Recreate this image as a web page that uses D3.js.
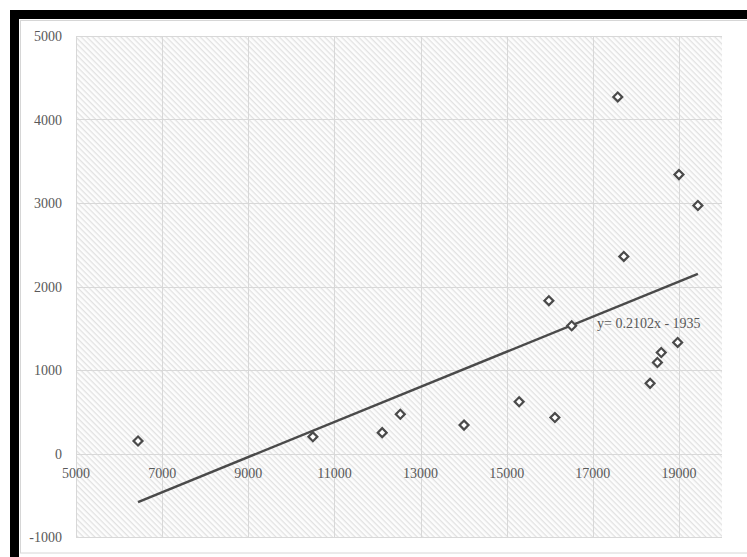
<!DOCTYPE html>
<html>
<head>
<meta charset="utf-8">
<script src="https://cdn.jsdelivr.net/npm/d3@7"></script>
<style>
  body { margin: 0; background: #fff; }
  text { font-family: "Liberation Serif", "DejaVu Serif", serif; }
</style>
</head>
<body>
<script>
// data
const xValues = [6440, 10500, 12110, 12530, 14010, 15290, 15980, 16120, 16510, 17580, 17720, 18330, 18500, 18590, 18970, 19000, 19440]
const yValues = [150, 200, 250, 470, 340, 620, 1830, 430, 1530, 4270, 2360, 840, 1090, 1210, 1330, 3340, 2970]
const xTicks = [5000, 7000, 9000, 11000, 13000, 15000, 17000, 19000]
const yTicks = [-1000, 0, 1000, 2000, 3000, 4000, 5000]
const slope = 0.2102
const intercept = -1935
const trendLabel = 'y= 0.2102x - 1935'

const W = 747, H = 557

let svg = d3.select('body').append('svg')
    .attr('width', W)
    .attr('height', H)

// hatch pattern for the plot area
let defs = svg.append('defs')
let pat = defs.append('pattern')
    .attr('id', 'hatch')
    .attr('width', 4)
    .attr('height', 4)
    .attr('patternUnits', 'userSpaceOnUse')
    .attr('patternTransform', 'rotate(45)')
pat.append('rect').attr('width', 4).attr('height', 4).attr('fill', '#fdfdfd')
pat.append('rect').attr('width', 4).attr('height', 1.3).attr('fill', '#e2e2e2')

// black frame + inner chart border
svg.append('rect').attr('x', 10).attr('y', 10).attr('width', W - 10).attr('height', H - 10).attr('fill', '#000')
svg.append('rect').attr('x', 19).attr('y', 19).attr('width', W - 19).attr('height', H - 19).attr('fill', '#fff')
svg.append('rect').attr('x', 20.5).attr('y', 20.5).attr('width', 740).attr('height', 532.5)
    .attr('fill', 'none').attr('stroke', '#d6d6d6')

let x = d3.scaleLinear().domain([5000, 20000]).range([76, 722])
let y = d3.scaleLinear().domain([-1000, 5000]).range([537, 36])

// plot area
svg.append('rect')
    .attr('x', x(5000)).attr('y', y(5000))
    .attr('width', x(20000) - x(5000)).attr('height', y(-1000) - y(5000))
    .attr('fill', 'url(#hatch)')

// gridlines
svg.append('g').selectAll('line')
    .data(xTicks)
    .join('line')
    .attr('x1', d => Math.round(x(d)) + 0.5).attr('x2', d => Math.round(x(d)) + 0.5)
    .attr('y1', y(5000)).attr('y2', y(-1000))
    .attr('stroke', '#d8d8d8')
svg.append('g').selectAll('line')
    .data(yTicks)
    .join('line')
    .attr('x1', x(5000)).attr('x2', x(20000))
    .attr('y1', d => Math.round(y(d)) + 0.5).attr('y2', d => Math.round(y(d)) + 0.5)
    .attr('stroke', '#d8d8d8')

// tick labels
svg.append('g').selectAll('text')
    .data(yTicks)
    .join('text')
    .attr('x', 62)
    .attr('y', d => y(d) + 5)
    .attr('text-anchor', 'end')
    .attr('font-size', 14)
    .attr('fill', '#595959')
    .text(d => d)
svg.append('g').selectAll('text')
    .data(xTicks)
    .join('text')
    .attr('x', d => x(d))
    .attr('y', y(0) + 24)
    .attr('text-anchor', 'middle')
    .attr('font-size', 14)
    .attr('fill', '#595959')
    .text(d => d)

// trend line
let xMin = d3.min(xValues), xMax = d3.max(xValues)
svg.append('line')
    .attr('x1', x(xMin)).attr('y1', y(slope * xMin + intercept))
    .attr('x2', x(xMax)).attr('y2', y(slope * xMax + intercept))
    .attr('stroke', '#4a4a4a')
    .attr('stroke-width', 2.5)

// points (hollow diamonds)
let pts = xValues.map((v, i) => ({x: v, y: yValues[i]}))
svg.append('g').selectAll('path')
    .data(pts)
    .join('path')
    .attr('d', d3.symbol(d3.symbolSquare, 40))
    .attr('transform', d => `translate(${x(d.x)},${y(d.y)}) rotate(45)`)
    .attr('fill', '#fff')
    .attr('stroke', '#4a4a4a')
    .attr('stroke-width', 2.2)

// equation label
svg.append('text')
    .attr('x', 597)
    .attr('y', 328)
    .attr('font-size', 14)
    .attr('fill', '#595959')
    .text(trendLabel)
</script>
</body>
</html>
